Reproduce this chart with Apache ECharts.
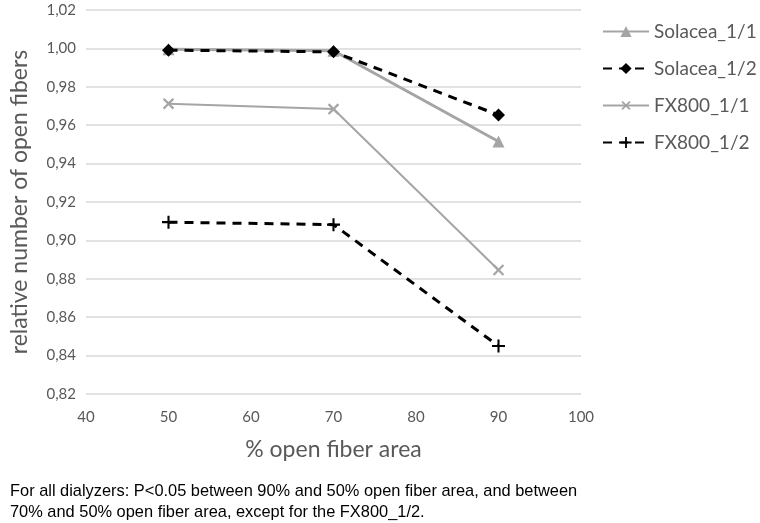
<!DOCTYPE html>
<html><head><meta charset="utf-8">
<script src="https://cdn.jsdelivr.net/npm/echarts@6/dist/echarts.min.js"></script>
<style>html,body{margin:0;padding:0;background:#fff}#c{width:760px;height:523px}</style>
</head><body><div id="c"></div>
<script>
const xValues = [50, 70, 90];
const solacea11 = [0.9995, 0.9988, 0.9515];
const solacea12 = [0.9991, 0.9982, 0.9653];
const fx80011 = [0.9712, 0.9684, 0.8846];
const fx80012 = [0.9095, 0.9082, 0.8450];
const seriesNames = ['Solacea_1/1', 'Solacea_1/2', 'FX800_1/1', 'FX800_1/2'];
const footnote = ['For all dialyzers: P<0.05 between 90% and 50% open fiber area, and between', '70% and 50% open fiber area, except for the FX800_1/2.'];

const pair = arr => xValues.map((x, i) => [x, arr[i]]);
const GRAY = '#a5a5a5';
const plus = 'path://M4.2,0H5.8V4.2H10V5.8H5.8V10H4.2V5.8H0V4.2H4.2Z';
const font = 'Lato, "Open Sans", sans-serif';

const chart = echarts.init(document.getElementById('c'));
chart.setOption({
  animation: false,
  grid: {left: 77, right: 179, top: 10, bottom: 129},
  legend: {
    orient: 'vertical', left: 597, top: 17, itemGap: 18, itemWidth: 46, itemHeight: 14,
    data: seriesNames,
    textStyle: {fontFamily: font, fontSize: 19, color: '#595959'}
  },
  xAxis: {
    type: 'value', min: 40, max: 100, interval: 10,
    name: '% open fiber area', nameLocation: 'middle', nameGap: 44,
    nameTextStyle: {fontFamily: font, fontSize: 23, color: '#595959'},
    axisLine: {show: false}, axisTick: {show: false},
    axisLabel: {fontFamily: font, fontSize: 15, color: '#595959', margin: 16},
    splitLine: {show: false}
  },
  yAxis: {
    type: 'value', min: 0.82, max: 1.02, interval: 0.02,
    name: 'relative number of open fibers', nameLocation: 'middle', nameGap: 55,
    nameTextStyle: {fontFamily: font, fontSize: 23, color: '#595959'},
    axisLine: {show: false}, axisTick: {show: false},
    axisLabel: {fontFamily: font, fontSize: 15, color: '#595959', margin: 10,
      formatter: v => v.toFixed(2).replace('.', ',')},
    splitLine: {lineStyle: {color: '#d9d9d9', width: 1.5}}
  },
  series: [
    {name: seriesNames[0], type: 'line', data: pair(solacea11), symbol: 'triangle', symbolSize: 12,
     lineStyle: {color: GRAY, width: 3}, itemStyle: {color: GRAY}},
    {name: seriesNames[1], type: 'line', data: pair(solacea12), symbol: 'diamond', symbolSize: 13,
     lineStyle: {color: '#000', width: 3, type: [9, 7]}, itemStyle: {color: '#000'}},
    {name: seriesNames[2], type: 'line', data: pair(fx80011), symbol: plus, symbolSize: 14, symbolRotate: 45,
     lineStyle: {color: GRAY, width: 2}, itemStyle: {color: GRAY}},
    {name: seriesNames[3], type: 'line', data: pair(fx80012), symbol: plus, symbolSize: 13,
     lineStyle: {color: '#000', width: 3, type: [9, 7]}, itemStyle: {color: '#000'}}
  ],
  graphic: [
    {type: 'text', left: 10, top: 483, style: {text: footnote[0], font: '16.4px "Liberation Sans", Arial, sans-serif', fill: '#000'}},
    {type: 'text', left: 10, top: 504, style: {text: footnote[1], font: '16.4px "Liberation Sans", Arial, sans-serif', fill: '#000'}}
  ]
});
</script></body></html>
